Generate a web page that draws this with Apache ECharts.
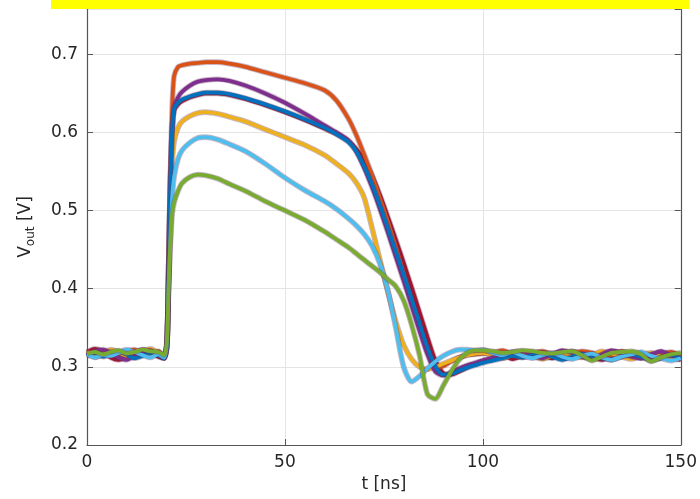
<!DOCTYPE html>
<html>
<head>
<meta charset="utf-8">
<script src="https://cdn.jsdelivr.net/npm/echarts@6/dist/echarts.min.js"></script>
<style>
  html, body { margin: 0; padding: 0; background: #ffffff; }
  #chart { width: 700px; height: 499px; }
</style>
</head>
<body>
<div id="chart"></div>
<script>
// Sample times (ns)
const tNs = [0, 2, 4, 6, 8, 10, 12, 14, 16, 18, 19.5,
  20.2, 20.6, 21, 21.5, 22,
  23, 24, 26, 28, 30, 33, 36, 40, 45, 50, 55, 60, 63, 66, 68,
  70, 72, 74, 76, 78, 80, 82, 84, 86, 88, 90, 92, 94, 96, 98,
  100, 102.5, 105, 107.5, 110, 112.5, 115, 117.5, 120, 122.5, 125, 127.5, 130, 132.5, 135, 137.5, 140, 142.5, 145, 147.5, 150];

// Output voltage traces (V), one per drive level
const vDarkRed = [0.319, 0.323, 0.320, 0.312, 0.309, 0.313, 0.318, 0.322, 0.319, 0.313, 0.311,
  0.330, 0.420, 0.520, 0.600, 0.628,
  0.636, 0.640, 0.645, 0.648, 0.650, 0.650, 0.648, 0.643, 0.635, 0.626, 0.616, 0.605, 0.598, 0.589, 0.579,
  0.565, 0.545, 0.520, 0.492, 0.463, 0.433, 0.402, 0.370, 0.338, 0.308, 0.292, 0.290, 0.294, 0.299, 0.304,
  0.308, 0.311, 0.315, 0.310, 0.314, 0.319, 0.314, 0.311, 0.316, 0.320, 0.317, 0.312, 0.309, 0.314, 0.319, 0.316, 0.311, 0.314, 0.318, 0.312, 0.309];

const vOrange = [0.320, 0.315, 0.321, 0.318, 0.313, 0.319, 0.322, 0.317, 0.315, 0.320, 0.313,
  0.330, 0.420, 0.530, 0.630, 0.672,
  0.684, 0.686, 0.688, 0.689, 0.690, 0.690, 0.688, 0.684, 0.677, 0.670, 0.663, 0.654, 0.641, 0.618, 0.597,
  0.572, 0.545, 0.516, 0.486, 0.454, 0.420, 0.386, 0.352, 0.320, 0.300, 0.301, 0.307, 0.312, 0.315, 0.316,
  0.317, 0.318, 0.321, 0.316, 0.312, 0.317, 0.320, 0.316, 0.311, 0.316, 0.320, 0.318, 0.313, 0.315, 0.320, 0.317, 0.313, 0.311, 0.316, 0.319, 0.314];

const vYellow = [0.317, 0.313, 0.316, 0.322, 0.319, 0.314, 0.315, 0.320, 0.323, 0.318, 0.313,
  0.330, 0.410, 0.490, 0.560, 0.588,
  0.606, 0.614, 0.621, 0.625, 0.626, 0.624, 0.620, 0.614, 0.604, 0.594, 0.584, 0.571, 0.560, 0.548, 0.536,
  0.517, 0.478, 0.437, 0.396, 0.358, 0.328, 0.310, 0.300, 0.297, 0.300, 0.304, 0.308, 0.312, 0.315, 0.317,
  0.318, 0.315, 0.311, 0.315, 0.319, 0.314, 0.310, 0.314, 0.317, 0.315, 0.312, 0.315, 0.320, 0.317, 0.313, 0.310, 0.315, 0.318, 0.313, 0.310, 0.313];

const vPurple = [0.315, 0.320, 0.322, 0.318, 0.312, 0.309, 0.314, 0.319, 0.321, 0.315, 0.311,
  0.330, 0.420, 0.520, 0.600, 0.632,
  0.645, 0.652, 0.660, 0.665, 0.667, 0.668, 0.666, 0.660, 0.650, 0.638, 0.624, 0.609, 0.600, 0.590, 0.576,
  0.555, 0.530, 0.502, 0.472, 0.441, 0.410, 0.378, 0.346, 0.316, 0.294, 0.289, 0.293, 0.298, 0.302, 0.305,
  0.308, 0.312, 0.315, 0.319, 0.320, 0.315, 0.311, 0.316, 0.321, 0.318, 0.313, 0.310, 0.316, 0.321, 0.318, 0.313, 0.311, 0.316, 0.320, 0.315, 0.311];

const vBlue = [0.314, 0.318, 0.313, 0.316, 0.320, 0.316, 0.311, 0.314, 0.318, 0.315, 0.311,
  0.330, 0.420, 0.520, 0.600, 0.630,
  0.638, 0.642, 0.646, 0.649, 0.651, 0.651, 0.649, 0.644, 0.636, 0.627, 0.617, 0.606, 0.598, 0.588, 0.576,
  0.557, 0.534, 0.507, 0.478, 0.448, 0.418, 0.387, 0.356, 0.325, 0.301, 0.290, 0.291, 0.295, 0.299, 0.302,
  0.305, 0.308, 0.311, 0.314, 0.312, 0.315, 0.318, 0.313, 0.309, 0.313, 0.317, 0.314, 0.311, 0.309, 0.313, 0.316, 0.313, 0.308, 0.311, 0.315, 0.311];

const vLightBlue = [0.316, 0.312, 0.315, 0.314, 0.318, 0.322, 0.319, 0.315, 0.312, 0.316, 0.312,
  0.330, 0.400, 0.460, 0.515, 0.543,
  0.566, 0.577, 0.587, 0.593, 0.594, 0.591, 0.585, 0.576, 0.560, 0.542, 0.526, 0.512, 0.502, 0.490, 0.481,
  0.470, 0.455, 0.432, 0.398, 0.350, 0.300, 0.281, 0.288, 0.298, 0.307, 0.314, 0.319, 0.322, 0.322, 0.321,
  0.322, 0.318, 0.315, 0.319, 0.314, 0.311, 0.315, 0.318, 0.313, 0.310, 0.314, 0.317, 0.312, 0.309, 0.313, 0.316, 0.319, 0.314, 0.311, 0.308, 0.311];

const vGreen = [0.317, 0.319, 0.316, 0.319, 0.321, 0.317, 0.319, 0.322, 0.320, 0.319, 0.315,
  0.335, 0.400, 0.450, 0.495, 0.510,
  0.525, 0.535, 0.543, 0.546, 0.545, 0.541, 0.534, 0.525, 0.512, 0.500, 0.488, 0.473, 0.463, 0.453, 0.445,
  0.437, 0.429, 0.421, 0.412, 0.403, 0.385, 0.354, 0.315, 0.265, 0.259, 0.276, 0.294, 0.309, 0.318, 0.321,
  0.321, 0.320, 0.318, 0.319, 0.321, 0.320, 0.318, 0.317, 0.319, 0.320, 0.315, 0.308, 0.313, 0.318, 0.319, 0.320, 0.316, 0.307, 0.312, 0.316, 0.318];

const yTicks = [0.2, 0.3, 0.4, 0.5, 0.6, 0.7];
const xTicks = [0, 50, 100, 150];

const traces = [
  { name: 'run 7', color: '#A2142F', v: vDarkRed },
  { name: 'run 2', color: '#D95319', v: vOrange },
  { name: 'run 3', color: '#EDB120', v: vYellow },
  { name: 'run 4', color: '#7E2F8E', v: vPurple },
  { name: 'run 1', color: '#0072BD', v: vBlue },
  { name: 'run 6', color: '#4DBEEE', v: vLightBlue },
  { name: 'run 5', color: '#77AC30', v: vGreen }
];

const FONT = 'DejaVu Sans';
const series = [];
traces.forEach(tr => {
  const data = tNs.map((t, i) => [t, tr.v[i]]);
  // faint darker edge under each trace
  series.push({
    type: 'line', data, showSymbol: false, silent: true, smooth: 0.25,
    lineStyle: { color: 'rgba(95,45,85,0.35)', width: 5.6 }
  });
  series.push({
    name: tr.name, type: 'line', data, showSymbol: false, smooth: 0.25,
    lineStyle: { color: tr.color, width: 3.8 }
  });
});

const axisColor = '#555555';
const chart = echarts.init(document.getElementById('chart'), null, { renderer: 'canvas' });
chart.setOption({
  animation: false,
  backgroundColor: '#ffffff',
  grid: { left: 87, right: 19, top: 9, bottom: 54 },
  xAxis: {
    type: 'value', min: xTicks[0], max: xTicks[xTicks.length - 1], interval: 50,
    name: 't [ns]', nameLocation: 'middle', nameGap: 30,
    nameTextStyle: { fontFamily: FONT, fontSize: 17, color: '#262626' },
    axisLine: { lineStyle: { color: axisColor, width: 1.2 } },
    axisTick: { inside: true, length: 6, lineStyle: { color: axisColor } },
    axisLabel: { fontFamily: FONT, fontSize: 17, color: '#262626', margin: 9 },
    splitLine: { show: true, lineStyle: { color: '#e4e4e4', width: 1 } }
  },
  yAxis: [{
    type: 'value', min: yTicks[0], max: 0.758, interval: 0.1,
    name: '{v|V}{s|out}{v| [V]}', nameLocation: 'middle', nameGap: 50,
    nameTextStyle: {
      fontFamily: FONT, color: '#262626',
      rich: {
        v: { fontFamily: FONT, fontSize: 17, color: '#262626', lineHeight: 22 },
        s: { fontFamily: FONT, fontSize: 12, color: '#262626', lineHeight: 12, verticalAlign: 'bottom' }
      }
    },
    axisLine: { show: true, lineStyle: { color: axisColor, width: 1.2 } },
    axisTick: { inside: true, length: 6, lineStyle: { color: axisColor } },
    axisLabel: {
      fontFamily: FONT, fontSize: 17, color: '#262626', margin: 9, showMaxLabel: false,
      formatter: v => v.toFixed(1)
    },
    splitLine: { show: true, lineStyle: { color: '#e4e4e4', width: 1 } }
  }, {
    type: 'value', position: 'right', min: yTicks[0], max: 0.758, interval: 0.1,
    axisLine: { show: true, lineStyle: { color: axisColor, width: 1.2 } },
    axisTick: { inside: true, length: 6, lineStyle: { color: axisColor } },
    axisLabel: { show: false },
    splitLine: { show: false }
  }],
  graphic: [{
    type: 'rect', left: 51, top: 0, z: 100,
    shape: { width: 638, height: 9 },
    style: { fill: '#ffff00' }
  }],
  series
});
</script>
</body>
</html>
